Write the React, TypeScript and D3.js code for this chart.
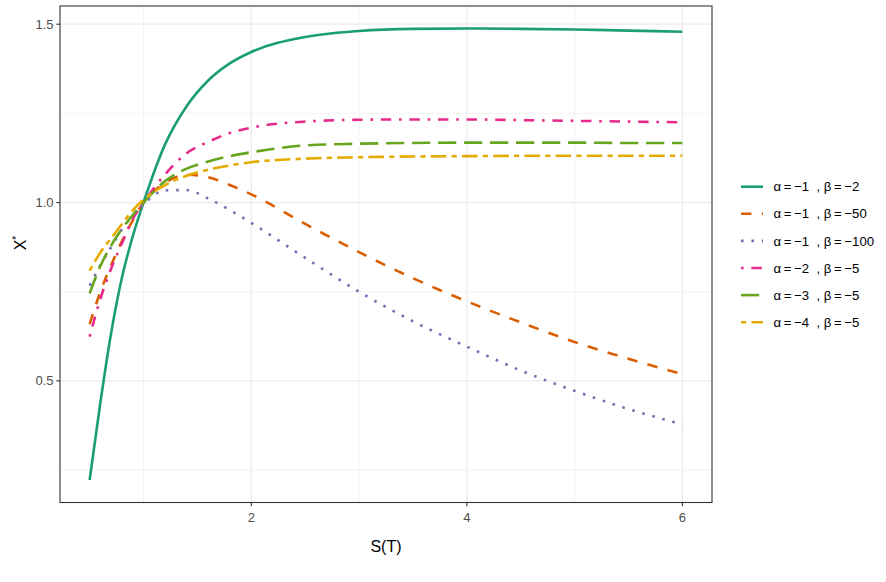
import * as d3 from "d3";

// S(T) grid shared by all curves
const sValues = [0.5, 0.6, 0.7, 0.8, 0.9, 1.0, 1.2, 1.4, 1.6, 1.8, 2.0, 2.5, 3.0, 3.5, 4.0, 4.5, 5.0, 5.5, 6.0];

// X*, one array per (alpha, beta)
const a1b2 = [0.222, 0.44, 0.635, 0.79, 0.905, 1.0, 1.163, 1.27, 1.342, 1.39, 1.422, 1.464, 1.481, 1.487, 1.488, 1.487, 1.485, 1.482, 1.479];
const a1b50 = [0.659, 0.75, 0.825, 0.892, 0.95, 1.0, 1.055, 1.078, 1.071, 1.049, 1.023, 0.94, 0.861, 0.788, 0.723, 0.664, 0.609, 0.562, 0.519];
const a1b100 = [0.767, 0.825, 0.875, 0.925, 0.963, 0.995, 1.034, 1.035, 1.011, 0.979, 0.943, 0.845, 0.75, 0.667, 0.596, 0.529, 0.472, 0.421, 0.378];
const a2b5 = [0.624, 0.73, 0.815, 0.886, 0.954, 1.0, 1.079, 1.138, 1.17, 1.195, 1.21, 1.227, 1.232, 1.233, 1.233, 1.231, 1.229, 1.227, 1.225];
const a3b5 = [0.745, 0.822, 0.88, 0.926, 0.965, 1.0, 1.06, 1.095, 1.115, 1.13, 1.141, 1.16, 1.165, 1.167, 1.168, 1.168, 1.168, 1.167, 1.167];
const a4b5 = [0.809, 0.86, 0.9, 0.94, 0.978, 1.008, 1.049, 1.075, 1.092, 1.104, 1.113, 1.123, 1.127, 1.129, 1.13, 1.131, 1.131, 1.131, 1.131];

// plotmath-like spacing: thin spaces round "=", wider gap before the comma
const seriesLabels = [
  "α\u2009=\u2009−1  , β\u2009=\u2009−2",
  "α\u2009=\u2009−1  , β\u2009=\u2009−50",
  "α\u2009=\u2009−1  , β\u2009=\u2009−100",
  "α\u2009=\u2009−2  , β\u2009=\u2009−5",
  "α\u2009=\u2009−3  , β\u2009=\u2009−5",
  "α\u2009=\u2009−4  , β\u2009=\u2009−5",
];

const xTicks = [2, 4, 6];
const xMinor = [1, 3, 5];
const yTicks = [0.5, 1.0, 1.5];
const yMinor = [0.25, 0.75, 1.25];

const W = 886;
const H = 582;
const LW = 2.6; // line width, dash patterns are in units of it

const colors = ["#1B9E77", "#D95F02", "#7570B3", "#E7298A", "#66A61E", "#E6AB02"];
// ggplot linetypes: solid, dashed, dotted, dotdash, longdash, twodash
const dashes = [null, [4, 4], [1, 3], [1, 3, 4, 3], [7, 3], [2, 2, 6, 2]];

const font = "'Liberation Sans', Arial, Helvetica, sans-serif";

export default function App() {
  const allSeries = [a1b2, a1b50, a1b100, a2b5, a3b5, a4b5];

  // panel
  const left = 60;
  const right = 712;
  const top = 6;
  const bottom = 502.5;

  const x = d3.scaleLinear().domain([0.225, 6.275]).range([left, right]);
  const y = d3.scaleLinear().domain([0.159, 1.551]).range([bottom, top]);

  const line = d3
    .line<number>()
    .x((d, i) => x(sValues[i]))
    .y((d) => y(d))
    .curve(d3.curveMonotoneX);

  const dashStr = (i: number) => (dashes[i] ? dashes[i]!.map((v) => v * LW).join(" ") : "none");

  const legX = 741;
  const legY = 186.7;
  const legStep = 27.1;

  return (
    <svg width={W} height={H} style={{ position: "absolute", left: 0, top: 0, background: "#fff" }} fontFamily={font}>
      <rect x={0} y={0} width={W} height={H} fill="#fff" />

      {/* grid */}
      {xMinor.map((t) => (
        <line key={"xm" + t} x1={x(t)} x2={x(t)} y1={top} y2={bottom} stroke="#EBEBEB" strokeWidth={0.6} />
      ))}
      {yMinor.map((t) => (
        <line key={"ym" + t} x1={left} x2={right} y1={y(t)} y2={y(t)} stroke="#EBEBEB" strokeWidth={0.6} />
      ))}
      {xTicks.map((t) => (
        <line key={"xg" + t} x1={x(t)} x2={x(t)} y1={top} y2={bottom} stroke="#EBEBEB" strokeWidth={1.2} />
      ))}
      {yTicks.map((t) => (
        <line key={"yg" + t} x1={left} x2={right} y1={y(t)} y2={y(t)} stroke="#EBEBEB" strokeWidth={1.2} />
      ))}

      {/* curves */}
      {allSeries.map((vals, i) => (
        <path
          key={"s" + i}
          d={line(vals) || ""}
          fill="none"
          stroke={colors[i]}
          strokeWidth={LW}
          strokeDasharray={dashStr(i)}
          strokeLinecap="butt"
        />
      ))}

      {/* panel border */}
      <rect x={left} y={top} width={right - left} height={bottom - top} fill="none" stroke="#333333" strokeWidth={1.1} />

      {/* x axis */}
      {xTicks.map((t) => (
        <g key={"xt" + t}>
          <line x1={x(t)} x2={x(t)} y1={bottom} y2={bottom + 3.7} stroke="#333333" strokeWidth={1.1} />
          <text x={x(t)} y={bottom + 19} textAnchor="middle" fontSize={13} fill="#4D4D4D">
            {t}
          </text>
        </g>
      ))}
      <text x={(left + right) / 2} y={552} textAnchor="middle" fontSize={16} fill="#000">
        S(T)
      </text>

      {/* y axis */}
      {yTicks.map((t) => (
        <g key={"yt" + t}>
          <line x1={left - 3.7} x2={left} y1={y(t)} y2={y(t)} stroke="#333333" strokeWidth={1.1} />
          <text x={left - 6.5} y={y(t) + 4.6} textAnchor="end" fontSize={13} fill="#4D4D4D">
            {d3.format(".1f")(t)}
          </text>
        </g>
      ))}
      <g transform={`translate(25.5, 243) rotate(-90)`}>
        <text textAnchor="middle" fontSize={16} fill="#000">
          X<tspan dy={-6} fontSize={10}>*</tspan>
        </text>
      </g>

      {/* legend */}
      {seriesLabels.map((lab, i) => (
        <g key={"lg" + i} transform={`translate(${legX}, ${legY + i * legStep})`}>
          <line x1={0} x2={22} y1={0} y2={0} stroke={colors[i]} strokeWidth={LW} strokeDasharray={dashStr(i)} />
          <text x={32.5} y={4.6} fontSize={13.2} fill="#000" style={{ whiteSpace: "pre" }}>
            {lab}
          </text>
        </g>
      ))}
    </svg>
  );
}
